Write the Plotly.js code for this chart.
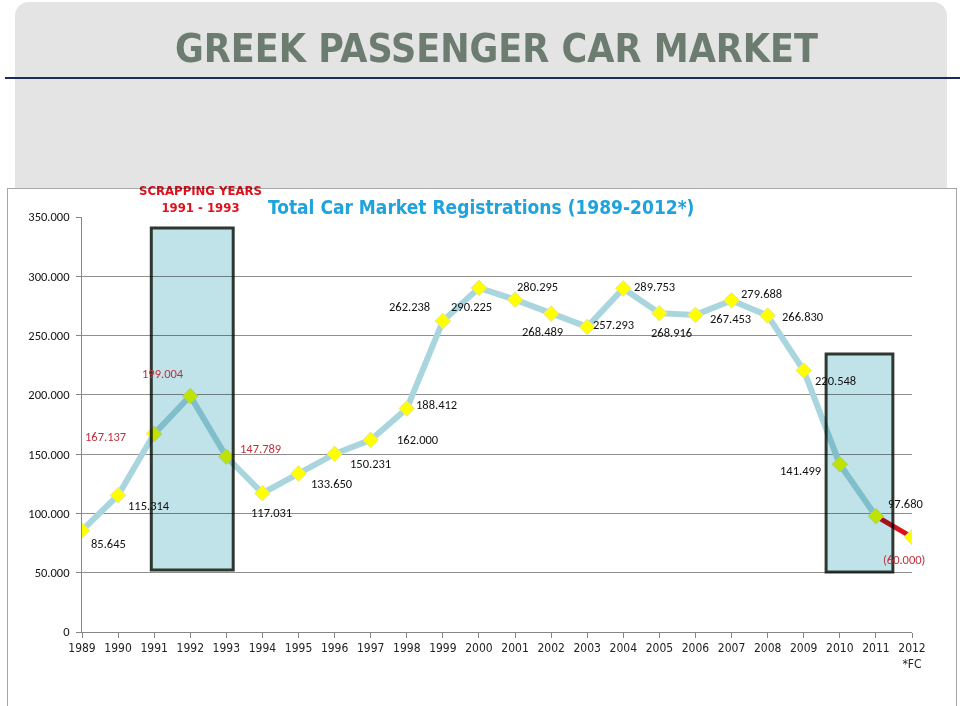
<!DOCTYPE html>
<html>
<head>
<meta charset="utf-8">
<script src="https://cdn.plot.ly/plotly-3.0.1.min.js"></script>
<style>
  html, body { margin: 0; padding: 0; background: #ffffff; width: 960px; height: 706px; overflow: hidden; }
  #slide { position: absolute; left: 15px; top: 2px; width: 932px; height: 300px; background: #e4e4e4; border-radius: 14px; }
  #rule { position: absolute; left: 5px; top: 77px; width: 955px; height: 2px; background: #1c2a5c; }
  #box { position: absolute; left: 7px; top: 188px; width: 948px; height: 540px; background: #ffffff; border: 1px solid #a6a6a6; }
  #chart { position: absolute; left: 0; top: 0; width: 960px; height: 706px; }
</style>
</head>
<body>
<div id="slide"></div>
<div id="rule"></div>
<div id="box"></div>
<div id="chart"></div>
<script>
// ---- data ----
const years = [1989, 1990, 1991, 1992, 1993, 1994, 1995, 1996, 1997, 1998, 1999, 2000,
               2001, 2002, 2003, 2004, 2005, 2006, 2007, 2008, 2009, 2010, 2011, 2012];
const registrations = [85645, 115314, 167137, 199004, 147789, 117031, 133650, 150231, 162000, 188412, 262238, 290225,
                       280295, 268489, 257293, 289753, 268916, 267453, 279688, 266830, 220548, 141499, 97680, 80000];
const forecastLabel = "(60.000)";
const scrappingYears = [1991, 1992, 1993];
const forecastYear = 2012;
const yTickValues = [0, 50000, 100000, 150000, 200000, 250000, 300000, 350000];
const xTickLabels = ["1989", "1990", "1991", "1992", "1993", "1994", "1995", "1996", "1997", "1998", "1999", "2000",
                     "2001", "2002", "2003", "2004", "2005", "2006", "2007", "2008", "2009", "2010", "2011", "2012<br>*FC"];

// ---- presentation (label offsets in px: [right, down]) ----
const labelOffsets = [[26,13],[31,10],[-49,3],[-27,-23],[34,-8],[9,19],[33,10],[36,10],[47,0],[30,-4],[-33,-15],[-7,19],
                      [22,-13],[-9,18],[26,-2],[31,-2],[12,19],[35,4],[30,-7],[35,1],[32,10],[-39,6],[30,-13],[-8,22]];

const fmt = n => n === 0 ? "0" : String(n).replace(/\B(?=(\d{3})+(?!\d))/g, ".");

const NARROW = '"Liberation Sans Narrow", "DejaVu Sans Condensed", "Liberation Sans", sans-serif';
const SANS = 'Carlito, "Liberation Sans", Arial, sans-serif';

// pixel helpers for paper coordinates (plot area: x 82..912, y 217..632)
const PL = 82, PR = 912, PT = 217, PB = 632;
const px = x => (x - PL) / (PR - PL);
const py = y => (PB - y) / (PB - PT);

const n = years.length;
const traces = [
  { x: years.slice(0, n - 1), y: registrations.slice(0, n - 1), mode: "lines",
    line: { color: "#a9d6de", width: 6 }, hoverinfo: "skip", showlegend: false },
  { x: years.slice(n - 2), y: registrations.slice(n - 2), mode: "lines",
    line: { color: "#d9141e", width: 5 }, hoverinfo: "skip", showlegend: false },
  { x: years, y: registrations, mode: "markers",
    marker: { symbol: "diamond", size: 12, color: "#ffff00", line: { color: "#e2e69a", width: 1 } },
    showlegend: false }
];

const annotations = years.map((yr, i) => {
  const red = scrappingYears.includes(yr) || yr === forecastYear;
  return {
    x: yr, y: registrations[i], xref: "x", yref: "y",
    text: yr === forecastYear ? forecastLabel : fmt(registrations[i]),
    showarrow: false, xanchor: "center", yanchor: "middle",
    xshift: labelOffsets[i][0], yshift: -labelOffsets[i][1],
    font: { family: SANS, size: 12.5, color: red ? "#c2303c" : "#111111" }
  };
});

annotations.push(
  { xref: "paper", yref: "paper", x: px(496), y: py(49), xanchor: "center", yanchor: "middle", showarrow: false,
    text: "<b>GREEK PASSENGER CAR MARKET</b>", font: { family: NARROW, size: 39, color: "#798b7d" } },
  { xref: "paper", yref: "paper", x: px(481), y: py(207), xanchor: "center", yanchor: "middle", showarrow: false,
    text: "<b>Total Car Market Registrations (1989-2012*)</b>", font: { family: NARROW, size: 19, color: "#1fa3dc" } },
  { xref: "paper", yref: "paper", x: px(200), y: py(199), xanchor: "center", yanchor: "middle", showarrow: false,
    text: "<b>SCRAPPING YEARS<br>1991 - 1993</b>", font: { family: NARROW, size: 13, color: "#e3101c" } }
);

const rectStyle = { type: "rect", xref: "x", yref: "y", layer: "above",
  fillcolor: "#bfe3e8", line: { color: "#2e3830", width: 3 } };
const shapes = [
  Object.assign({}, rectStyle, { x0: 1990.92, x1: 1993.19, y0: 52300, y1: 340700 }),
  Object.assign({}, rectStyle, { x0: 2009.62, x1: 2011.47, y0: 50600, y1: 234500 })
];

const layout = {
  width: 960, height: 706,
  margin: { l: PL, r: 960 - PR, t: PT, b: 706 - PB, pad: 0 },
  paper_bgcolor: "rgba(0,0,0,0)", plot_bgcolor: "#ffffff",
  showlegend: false,
  xaxis: {
    range: [1989, 2012], tickvals: years, ticktext: xTickLabels,
    showgrid: false, zeroline: false, showline: true, linecolor: "#868686", linewidth: 1,
    ticks: "outside", ticklen: 5, tickcolor: "#868686",
    tickfont: { family: NARROW, size: 12, color: "#222222" }, fixedrange: true
  },
  yaxis: {
    range: [0, 350000], tickvals: yTickValues, ticktext: yTickValues.map(fmt),
    showgrid: true, gridcolor: "#8f8f8f", gridwidth: 1, zeroline: false,
    showline: true, linecolor: "#868686", linewidth: 1,
    ticks: "outside", ticklen: 5, tickcolor: "#868686", ticklabelstandoff: 4,
    tickfont: { family: SANS, size: 12.5, color: "#111111" }, fixedrange: true
  },
  shapes: shapes,
  annotations: annotations,
  font: { family: SANS }
};

Plotly.newPlot("chart", traces, layout, { displayModeBar: false, staticPlot: true }).then(gd => {
  // the scrapping-year boxes tint what lies under them (multiply), as in the reference
  const above = gd.querySelector(".layer-above");
  const svg = above ? above.closest("svg") : null;
  if (svg) svg.style.mixBlendMode = "multiply";
});
</script>
</body>
</html>
